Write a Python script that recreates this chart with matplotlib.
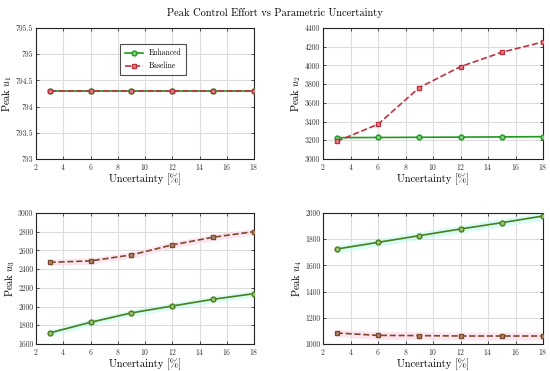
import numpy as np
import matplotlib.pyplot as plt

# ---- data ----
unc = [3, 6, 9, 12, 15, 18]

u1_enh = [794.3, 794.3, 794.3, 794.3, 794.3, 794.3]
u1_base = [794.3, 794.3, 794.3, 794.3, 794.3, 794.3]

u2_enh = [3228, 3230, 3232, 3234, 3236, 3239]
u2_base = [3189, 3371, 3763, 3987, 4141, 4251]

u3_enh = [1718, 1832, 1932, 2006, 2078, 2138]
u3_base = [2473, 2488, 2552, 2659, 2741, 2801]
u3_enh_sd = [35, 35, 35, 35, 35, 35]
u3_base_sd = [35, 35, 35, 35, 35, 35]

u4_enh = [1725, 1776, 1827, 1878, 1926, 1977]
u4_base = [1084, 1066, 1064, 1061, 1061, 1061]
u4_enh_sd = [30, 30, 30, 30, 30, 30]
u4_base_sd = [30, 30, 30, 30, 30, 30]

plt.rcParams['font.family'] = ['cmr10', 'DejaVu Serif']
plt.rcParams['mathtext.fontset'] = 'cm'
plt.rcParams['axes.formatter.use_mathtext'] = True

fig = plt.figure(figsize=(5.5, 3.71), dpi=100)
W, H = 550, 371

def mkax(x0, y0, x1, y1):
    return fig.add_axes([x0 / W, 1 - y1 / H, (x1 - x0) / W, (y1 - y0) / H])

axs = [mkax(36, 28, 254, 159), mkax(323, 28, 543, 159),
       mkax(36, 213, 254, 344), mkax(323, 213, 543, 344)]

ylims = [(793, 795.5), (3000, 4400), (1600, 3000), (1000, 2000)]
ysteps = [0.5, 200, 200, 200]
labels = ["Peak $u_1$", "Peak $u_2$", "Peak $u_3$", "Peak $u_4$"]

g_top, r_top = '#1f9a1f', '#c03040'
g_bot, r_bot = '#4a7d1e', '#7d4a2e'

# top row
for ax, e, b in [(axs[0], u1_enh, u1_base), (axs[1], u2_enh, u2_base)]:
    ax.plot(unc, e, '-o', color=g_top, lw=1.2, ms=3.5, mfc='#7fcf7f', mec=g_top,
            mew=1.0, label='Enhanced', zorder=3)
    ax.plot(unc, b, '--s', color=r_top, lw=1.2, ms=3.2, mfc='#e08a90', mec=r_top,
            mew=1.0, label='Baseline', zorder=3)

# bottom row with shaded bands
for ax, e, b, esd, bsd in [(axs[2], u3_enh, u3_base, u3_enh_sd, u3_base_sd),
                           (axs[3], u4_enh, u4_base, u4_enh_sd, u4_base_sd)]:
    e, b = np.array(e), np.array(b)
    ax.fill_between(unc, e - esd, e + esd, color='#c0fbee', alpha=0.6, lw=0, zorder=1)
    ax.fill_between(unc, b - bsd, b + bsd, color='#fcd6e6', alpha=0.6, lw=0, zorder=1)
    ax.plot(unc, e, '-o', color=g_bot, lw=1.2, ms=3.5, mfc='#a0c070', mec=g_bot,
            mew=1.0, zorder=3)
    ax.plot(unc, b, '--s', color=r_bot, lw=1.2, ms=3.2, mfc='#b08a70', mec=r_bot,
            mew=1.0, zorder=3)

for ax, yl, st, lab in zip(axs, ylims, ysteps, labels):
    ax.set_xlim(2, 18)
    ax.set_xticks(range(2, 19, 2))
    ax.set_ylim(*yl)
    ticks = np.arange(yl[0], yl[1] + st / 2, st)
    ax.set_yticks(ticks)
    ax.set_yticklabels([f"{v:g}" for v in ticks])
    ax.grid(True, color='#dddddd', lw=0.8, zorder=0)
    ax.set_axisbelow(True)
    ax.tick_params(direction='in', top=True, right=True, labelsize=5.5,
                   length=2.5, width=0.6, colors='#333333', pad=2)
    for s in ax.spines.values():
        s.set_linewidth(0.8)
        s.set_color('#222222')
    ax.set_xlabel("Uncertainty [%]", fontsize=7.5, labelpad=1)
    ax.set_ylabel(lab, fontsize=7.5, labelpad=1)

leg = axs[0].legend(loc='upper left', bbox_to_anchor=(0.385, 0.875), fontsize=5.5,
                    frameon=True, fancybox=False, edgecolor='#222222',
                    handlelength=2.4, borderpad=0.6, labelspacing=0.6,
                    borderaxespad=0)
leg.get_frame().set_linewidth(0.8)

fig.text(0.5, 1 - 13 / H, "Peak Control Effort vs Parametric Uncertainty",
         ha='center', va='center', fontsize=7.5)

fig.savefig("out.png", dpi=100)
